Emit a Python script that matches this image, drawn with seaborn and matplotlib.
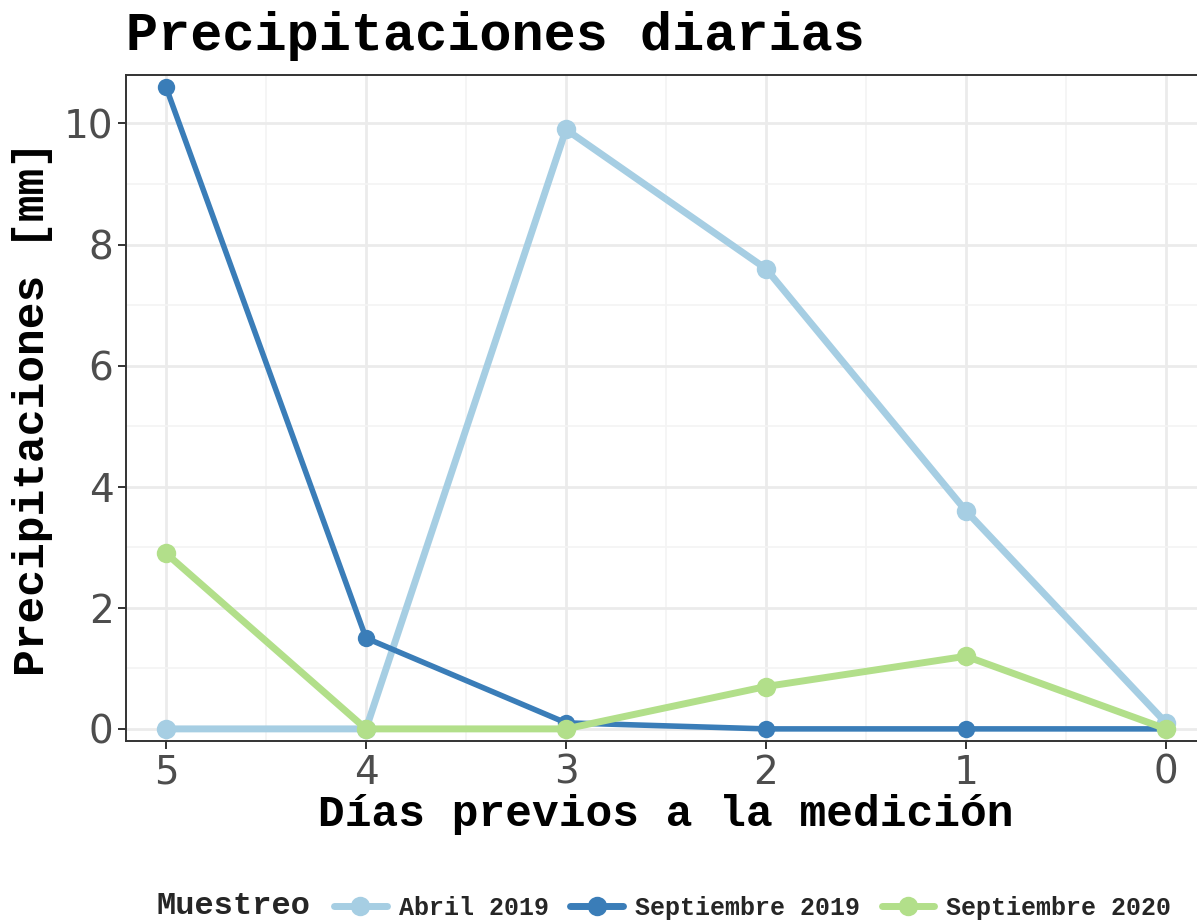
import matplotlib
matplotlib.use("Agg")
import matplotlib.pyplot as plt
import seaborn as sns
import pandas as pd
from matplotlib.lines import Line2D
from matplotlib.ticker import MultipleLocator

dias = [5, 4, 3, 2, 1, 0]
abril_2019 = [0.0, 0.0, 9.9, 7.6, 3.6, 0.1]
sept_2019 = [10.6, 1.5, 0.1, 0.0, 0.0, 0.0]
sept_2020 = [2.9, 0.0, 0.0, 0.7, 1.2, 0.0]
series_names = ["Abril 2019", "Septiembre 2019", "Septiembre 2020"]
colors = ["#A6CEE3", "#3A7DB8", "#B2DF8A"]

df = pd.DataFrame({
    "dias": dias * 3,
    "mm": abril_2019 + sept_2019 + sept_2020,
    "Muestreo": [series_names[0]] * 6 + [series_names[1]] * 6 + [series_names[2]] * 6,
})

sns.set_theme(style="white")
mono = ["Liberation Mono", "DejaVu Sans Mono"]

W, H = 1197, 921
fig = plt.figure(figsize=(W / 100, H / 100), dpi=100)
ax = fig.add_axes([126 / W, 1 - 741 / H, (1206 - 126) / W, (741 - 75) / H])

palette = dict(zip(series_names, colors))
widths = {series_names[0]: 5.0, series_names[1]: 4.0, series_names[2]: 5.0}
msize = {series_names[0]: 14, series_names[1]: 12.5, series_names[2]: 14}
for name in series_names:
    sub = df[df["Muestreo"] == name]
    sns.lineplot(data=sub, x="dias", y="mm", color=palette[name], lw=widths[name],
                 marker="o", markersize=msize[name], markeredgewidth=0, ax=ax, legend=False,
                 sort=False, zorder=3)

ax.set_xlim(5.2, -0.2)
ax.set_ylim(-0.2, 10.8)
ax.xaxis.set_major_locator(MultipleLocator(1))
ax.xaxis.set_minor_locator(MultipleLocator(0.5))
ax.yaxis.set_major_locator(MultipleLocator(2))
ax.yaxis.set_minor_locator(MultipleLocator(1))
ax.grid(True, which="major", color="#EBEBEB", lw=2.0, zorder=0)
ax.grid(True, which="minor", color="#F4F4F4", lw=1.2, zorder=0)
ax.set_axisbelow(True)
for s in ax.spines.values():
    s.set_color("#333333")
    s.set_linewidth(1.4)
ax.tick_params(axis="both", which="major", length=6, width=1.4, color="#333333",
               labelsize=28, labelcolor="#4D4D4D", pad=3, bottom=True, left=True)
ax.tick_params(axis="both", which="minor", length=0)
for lab in ax.get_xticklabels() + ax.get_yticklabels():
    lab.set_family("DejaVu Sans")

ax.set_xlabel("Días previos a la medición", family=mono, fontweight="bold",
              fontsize=32, color="black", labelpad=2)
ax.set_ylabel("Precipitaciones [mm]", family=mono, fontweight="bold",
              fontsize=32, color="black", labelpad=8)

fig.text(126 / W, 1 - 50 / H, "Precipitaciones diarias", family=mono, fontweight="bold",
         fontsize=38.5, color="black", ha="left", va="baseline")

handles = [Line2D([0], [0], color=c, lw=5, marker="o", markersize=14, markeredgewidth=0)
           for c in colors]
fig.text(157 / W, 1 - 906 / H, "Muestreo", family=mono, fontweight="bold",
         fontsize=23, ha="left", va="center")
fig.legend(handles, series_names, loc="center left", bbox_to_anchor=(334 / W, 1 - 908 / H),
           ncol=3, frameon=False, prop={"family": mono, "weight": "bold", "size": 18},
           handlelength=2.1, handletextpad=0.5, columnspacing=0.85, borderaxespad=0,
           borderpad=0)

fig.savefig("out.png", dpi=100)
